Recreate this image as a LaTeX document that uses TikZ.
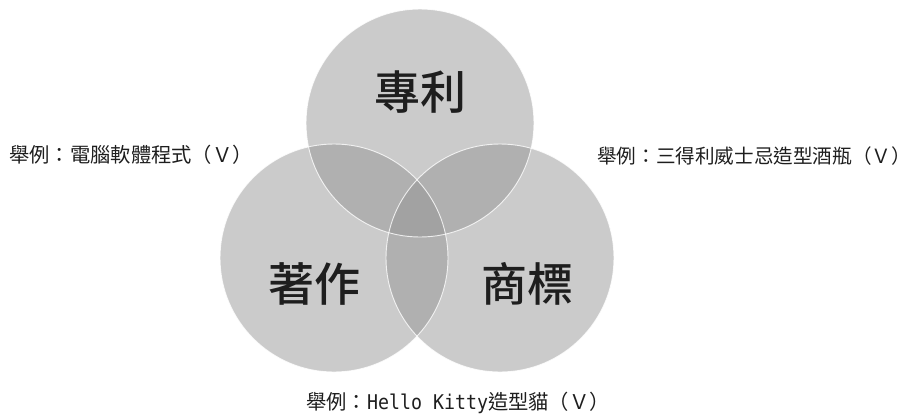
\documentclass[tikz,border=0pt]{standalone}
\usepackage{fontspec}
\setmainfont{Noto Sans CJK TC}[BoldFont={Noto Sans CJK TC Medium}]
\newfontfamily\monofam{DejaVu Sans Mono}
\usepackage{graphicx}
\definecolor{circfill}{RGB}{147,147,147}
\definecolor{txt}{RGB}{30,30,30}
\begin{document}
\begin{tikzpicture}[x=1pt,y=-1pt,
  venn/.style={fill=circfill,fill opacity=0.48,draw=none},
  rim/.style={draw=white,line width=0.9pt,draw opacity=0.8},
  biglabel/.style={text=txt,font=\fontsize{46}{50}\selectfont\bfseries,inner sep=0},
  example/.style={text=txt,font=\fontsize{20.3}{23}\selectfont,inner sep=0}]
\useasboundingbox (0,0) rectangle (911,416);
\coordinate (ctop) at (420,123);
\coordinate (cleft) at (334,258);
\coordinate (cright) at (500,258);
\fill[venn] (ctop) circle (114);
\fill[venn] (cleft) circle (114);
\fill[venn] (cright) circle (114);
\draw[rim] (ctop) circle (114);
\draw[rim] (cleft) circle (114);
\draw[rim] (cright) circle (114);
\node[biglabel] (patent) at (420,92) {專利};
\node[biglabel] (copyright) at (314,284) {著作};
\node[biglabel] (trademark) at (527,284) {商標};
\node[example,anchor=west] (exleft) at (9,155) {舉例：電腦軟體程式（Ｖ）};
\node[example,anchor=west,font=\fontsize{19.6}{23}\selectfont] (exright) at (597,156) {舉例：三得利威士忌造型酒瓶（Ｖ）};
\node[example,anchor=west] (exbottom) at (306,403) {舉例：\scalebox{0.9}[1]{\monofam Hello Kitty}造型貓（Ｖ）};
\end{tikzpicture}
\end{document}
